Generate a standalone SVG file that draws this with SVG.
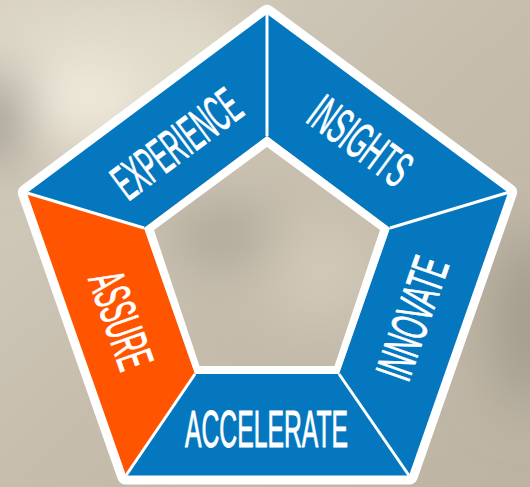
<svg xmlns="http://www.w3.org/2000/svg" width="530" height="487" viewBox="0 0 530 487">
<defs>
<style>
.blue{fill:#0577BF}
.orange{fill:#FF5500}
.lbl{font-family:"Liberation Sans Narrow","Liberation Sans",Arial,sans-serif;font-size:51px;fill:#FFFFFF;stroke:#FFFFFF;stroke-width:0.9;text-anchor:middle}
.div{stroke:#FFFFFF;stroke-width:3;fill:none}
</style>
<filter id="blur" x="-50%" y="-50%" width="200%" height="200%"><feGaussianBlur stdDeviation="28"/></filter>
<linearGradient id="bg" x1="0" y1="0" x2="1" y2="1">
<stop offset="0" stop-color="#D6CFC0"/>
<stop offset="0.5" stop-color="#C6BDAD"/>
<stop offset="1" stop-color="#BCB3A3"/>
</linearGradient>
</defs>
<g id="background">
<rect x="0" y="0" width="530" height="487" fill="url(#bg)"/>
<g filter="url(#blur)">
<ellipse cx="110" cy="60" rx="150" ry="70" fill="#E0DACB"/>
<ellipse cx="85" cy="105" rx="60" ry="40" fill="#F1EBDD"/>
<ellipse cx="0" cy="115" rx="22" ry="45" fill="#7C776E"/>
<ellipse cx="530" cy="320" rx="40" ry="90" fill="#A39B8C"/>
<ellipse cx="225" cy="235" rx="55" ry="22" fill="#A39C8F"/>
<ellipse cx="320" cy="270" rx="55" ry="55" fill="#D2C9B8"/>
</g>
</g>
<g id="frame">
<polygon points="267,14 508,192.5 409,475.5 126,475.5 27,193" fill="none" stroke="#FFFFFF" stroke-width="18" stroke-linejoin="round"/>
</g>
<g id="experience">
<polygon class="blue" points="27,193 267,14 267,136 144,228"/>
<text class="lbl" transform="translate(176,143) rotate(-36.7)" x="0" y="18.5" textLength="147" lengthAdjust="spacingAndGlyphs">EXPERIENCE</text>
</g>
<g id="insights">
<polygon class="blue" points="267,14 508,192.5 390,228 267,136"/>
<text class="lbl" transform="translate(361,140) rotate(36.5)" x="0" y="18.5" textLength="114" lengthAdjust="spacingAndGlyphs">INSIGHTS</text>
</g>
<g id="innovate">
<polygon class="blue" points="508,192.5 409,475.5 339,374 390,228"/>
<text class="lbl" transform="translate(411.5,318) rotate(-70.8)" x="0" y="18.5" textLength="126" lengthAdjust="spacingAndGlyphs">INNOVATE</text>
</g>
<g id="accelerate">
<polygon class="blue" points="409,475.5 126,475.5 195,374 339,374"/>
<text class="lbl" x="266.5" y="446.7" textLength="163" lengthAdjust="spacingAndGlyphs">ACCELERATE</text>
</g>
<g id="assure">
<polygon class="orange" points="126,475.5 27,193 144,228 195,374"/>
<text class="lbl" transform="translate(122,320) rotate(70.7)" x="0" y="18.5" textLength="100" lengthAdjust="spacingAndGlyphs">ASSURE</text>
</g>
<g id="inner-ring">
<path fill="#FFFFFF" fill-rule="evenodd" d="M267,136 L390,228 L339,374 L195,374 L144,228 Z M267,147 L154,230 L199.5,366 L334.5,366 L380,230 Z"/>
</g>
<g id="connectors">
<line class="div" x1="267" y1="14" x2="267" y2="136"/>
<line class="div" x1="390" y1="228" x2="508" y2="192.5"/>
<line class="div" x1="339" y1="374" x2="409" y2="475.5"/>
<line class="div" x1="195" y1="374" x2="126" y2="475.5"/>
<line class="div" x1="144" y1="228" x2="27" y2="193"/>
</g>
</svg>
